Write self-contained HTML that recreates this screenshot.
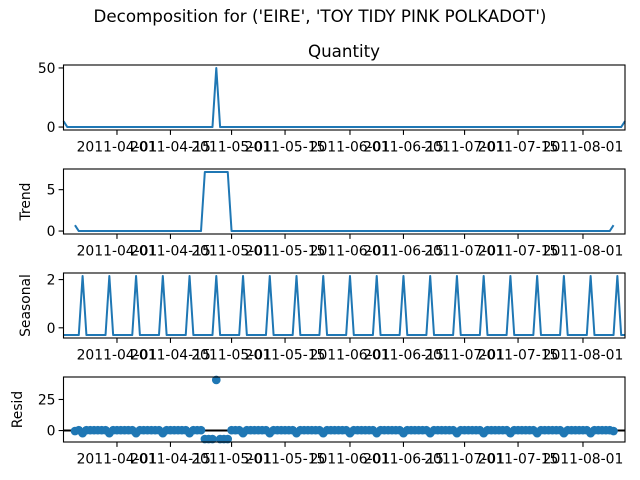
<!DOCTYPE html>
<html><head><meta charset="utf-8"><style>
body{margin:0;background:#fff}
svg{display:block;font-family:"DejaVu Sans","Liberation Sans",sans-serif}
</style></head><body>
<svg id="chart" width="640" height="480" viewBox="0 0 640 480" xmlns="http://www.w3.org/2000/svg">
<text x="320" y="22" text-anchor="middle" font-size="16.7">Decomposition for ('EIRE', 'TOY TIDY PINK POLKADOT')</text>
<text x="344" y="57" text-anchor="middle" font-size="16.7">Quantity</text>
</svg>
<script>
const startDate = "2011-03-18";
const tickIndices = [14, 28, 44, 58, 75, 89, 105, 119, 136];
const tickLabels = ["2011-04-01","2011-04-15","2011-05-01","2011-05-15","2011-06-01","2011-06-15","2011-07-01","2011-07-15","2011-08-01"];
const quantity = [
5,0,0,0,0,0,0,0,0,0, 0,0,0,0,0,0,0,0,0,0, 0,0,0,0,0,0,0,0,0,0, 0,0,0,0,0,0,0,0,0,0,
50,0,0,0,0,0,0,0,0,0, 0,0,0,0,0,0,0,0,0,0, 0,0,0,0,0,0,0,0,0,0, 0,0,0,0,0,0,0,0,0,0,
0,0,0,0,0,0,0,0,0,0, 0,0,0,0,0,0,0,0,0,0, 0,0,0,0,0,0,0,0,0,0, 0,0,0,0,0,0,0,0,0,0,
0,0,0,0,0,0,0,0,0,0, 0,0,0,0,0,0,0,0,0,0, 0,0,0,0,0,0,0,5];
const trend = [
null,null,null,0.71,0,0,0,0,0,0, 0,0,0,0,0,0,0,0,0,0, 0,0,0,0,0,0,0,0,0,0, 0,0,0,0,0,0,0,7.14,7.14,7.14,
7.14,7.14,7.14,7.14,0,0,0,0,0,0, 0,0,0,0,0,0,0,0,0,0, 0,0,0,0,0,0,0,0,0,0, 0,0,0,0,0,0,0,0,0,0,
0,0,0,0,0,0,0,0,0,0, 0,0,0,0,0,0,0,0,0,0, 0,0,0,0,0,0,0,0,0,0, 0,0,0,0,0,0,0,0,0,0,
0,0,0,0,0,0,0,0,0,0, 0,0,0,0,0,0,0,0,0,0, 0,0,0,0,0.71,null,null,null];
const seasonal = [
-0.3,-0.3,-0.3,-0.3,-0.3,2.15,-0.3, -0.3,-0.3,-0.3,-0.3,-0.3,2.15,-0.3, -0.3,-0.3,-0.3,-0.3,-0.3,2.15,-0.3,
-0.3,-0.3,-0.3,-0.3,-0.3,2.15,-0.3, -0.3,-0.3,-0.3,-0.3,-0.3,2.15,-0.3, -0.3,-0.3,-0.3,-0.3,-0.3,2.15,-0.3,
-0.3,-0.3,-0.3,-0.3,-0.3,2.15,-0.3, -0.3,-0.3,-0.3,-0.3,-0.3,2.15,-0.3, -0.3,-0.3,-0.3,-0.3,-0.3,2.15,-0.3,
-0.3,-0.3,-0.3,-0.3,-0.3,2.15,-0.3, -0.3,-0.3,-0.3,-0.3,-0.3,2.15,-0.3, -0.3,-0.3,-0.3,-0.3,-0.3,2.15,-0.3,
-0.3,-0.3,-0.3,-0.3,-0.3,2.15,-0.3, -0.3,-0.3,-0.3,-0.3,-0.3,2.15,-0.3, -0.3,-0.3,-0.3,-0.3,-0.3,2.15,-0.3,
-0.3,-0.3,-0.3,-0.3,-0.3,2.15,-0.3, -0.3,-0.3,-0.3,-0.3,-0.3,2.15,-0.3, -0.3,-0.3,-0.3,-0.3,-0.3,2.15,-0.3,
-0.3,-0.3,-0.3,-0.3,-0.3,2.15,-0.3, -0.3,-0.3,-0.3,-0.3,-0.3,2.15,-0.3, -0.3,-0.3,-0.3,-0.3,-0.3,2.15,-0.3,
-0.3];
const resid = [
null,null,null,-0.41,0.3,-2.15,0.3, 0.3,0.3,0.3,0.3,0.3,-2.15,0.3, 0.3,0.3,0.3,0.3,0.3,-2.15,0.3,
0.3,0.3,0.3,0.3,0.3,-2.15,0.3, 0.3,0.3,0.3,0.3,0.3,-2.15,0.3, 0.3,0.3,-6.84,-6.84,-6.84,40.71,-6.84,
-6.84,-6.84,0.3,0.3,0.3,-2.15,0.3, 0.3,0.3,0.3,0.3,0.3,-2.15,0.3, 0.3,0.3,0.3,0.3,0.3,-2.15,0.3,
0.3,0.3,0.3,0.3,0.3,-2.15,0.3, 0.3,0.3,0.3,0.3,0.3,-2.15,0.3, 0.3,0.3,0.3,0.3,0.3,-2.15,0.3,
0.3,0.3,0.3,0.3,0.3,-2.15,0.3, 0.3,0.3,0.3,0.3,0.3,-2.15,0.3, 0.3,0.3,0.3,0.3,0.3,-2.15,0.3,
0.3,0.3,0.3,0.3,0.3,-2.15,0.3, 0.3,0.3,0.3,0.3,0.3,-2.15,0.3, 0.3,0.3,0.3,0.3,0.3,-2.15,0.3,
0.3,0.3,0.3,0.3,0.3,-2.15,0.3, 0.3,0.3,0.3,0.3,0.3,-2.15,0.3, 0.3,0.3,0.3,0.3,-0.41,null,null,
null];
const yTicksQuantity = [0, 50];
const yTicksTrend = [0, 5];
const yTicksSeasonal = [0, 2];
const yTicksResid = [0, 25];

const NS = "http://www.w3.org/2000/svg";
const svg = document.getElementById("chart");
const L = 63.5, R = 625, H = 65;
function mk(tag, attrs, parent){const e=document.createElementNS(NS,tag);for(const k in attrs)e.setAttribute(k,attrs[k]);(parent||svg).appendChild(e);return e;}
function xScale(i){return L + i*(R-L)/(quantity.length-1);}

const panels = [
 {name:"quantity", data:quantity, ticks:yTicksQuantity, top:65, label:null, labelX:0, kind:"line"},
 {name:"trend", data:trend, ticks:yTicksTrend, top:169, label:"Trend", labelX:30, kind:"line"},
 {name:"seasonal", data:seasonal, ticks:yTicksSeasonal, top:273, label:"Seasonal", labelX:30, kind:"line"},
 {name:"resid", data:resid, ticks:yTicksResid, top:377, label:"Resid", labelX:22, kind:"dots"}
];

panels.forEach(p=>{
  const vals = p.data.filter(v=>v!==null);
  let mn=Math.min(...vals), mx=Math.max(...vals);
  if(p.kind==="dots"){mn=Math.min(mn,0);mx=Math.max(mx,0);}
  const pad=(mx-mn)*0.05; const y0=mn-pad, y1=mx+pad;
  const yScale=v=>p.top+H-(v-y0)/(y1-y0)*H;
  const g=mk("g",{});
  
  
  if(p.kind==="line"){
    let d="";let pen=false;
    p.data.forEach((v,i)=>{if(v===null){pen=false;return;} d+=(pen?"L":"M")+xScale(i).toFixed(2)+","+yScale(v).toFixed(2);pen=true;});
    const path=mk("path",{d:d,fill:"none",stroke:"#1f77b4","stroke-width":2,"stroke-linejoin":"round"},g);
    
    
  } else {
    const zl=mk("line",{x1:L,x2:R,y1:yScale(0),y2:yScale(0),stroke:"#000","stroke-width":2},g);
    
    
    p.data.forEach((v,i)=>{if(v===null)return;
      const c=mk("circle",{cx:xScale(i),cy:yScale(v),r:4.3,fill:"#1f77b4"},g);
      
      
    });
  }
  const fr=mk("rect",{x:L,y:p.top,width:R-L,height:H,fill:"none",stroke:"#000","stroke-width":1.1},g);
  
  
  p.ticks.forEach(t=>{
    const y=yScale(t);
    const tl=mk("line",{x1:L-4.9,x2:L,y1:y,y2:y,stroke:"#000","stroke-width":1.1},g);
    
    
    const tx=mk("text",{x:L-8,y:y+5,"text-anchor":"end","font-size":13.9},g);
    tx.textContent=t;
    
    
  });
  tickIndices.forEach((ti,k)=>{
    const x=xScale(ti);
    const tl=mk("line",{x1:x,x2:x,y1:p.top+H,y2:p.top+H+4.9,stroke:"#000","stroke-width":1.1},g);
    
    
    const tx=mk("text",{x:x,y:p.top+H+21.5,"text-anchor":"middle","font-size":13.9},g);
    tx.textContent=tickLabels[k];
    
    
  });
  if(p.label){
    const cy=p.top+H/2;
    const lb=mk("text",{x:p.labelX,y:cy,"text-anchor":"middle","font-size":13.9,transform:"rotate(-90 "+p.labelX+" "+cy+")"},g);
    lb.textContent=p.label;
    
    
  }
});
</script>
</body></html>
